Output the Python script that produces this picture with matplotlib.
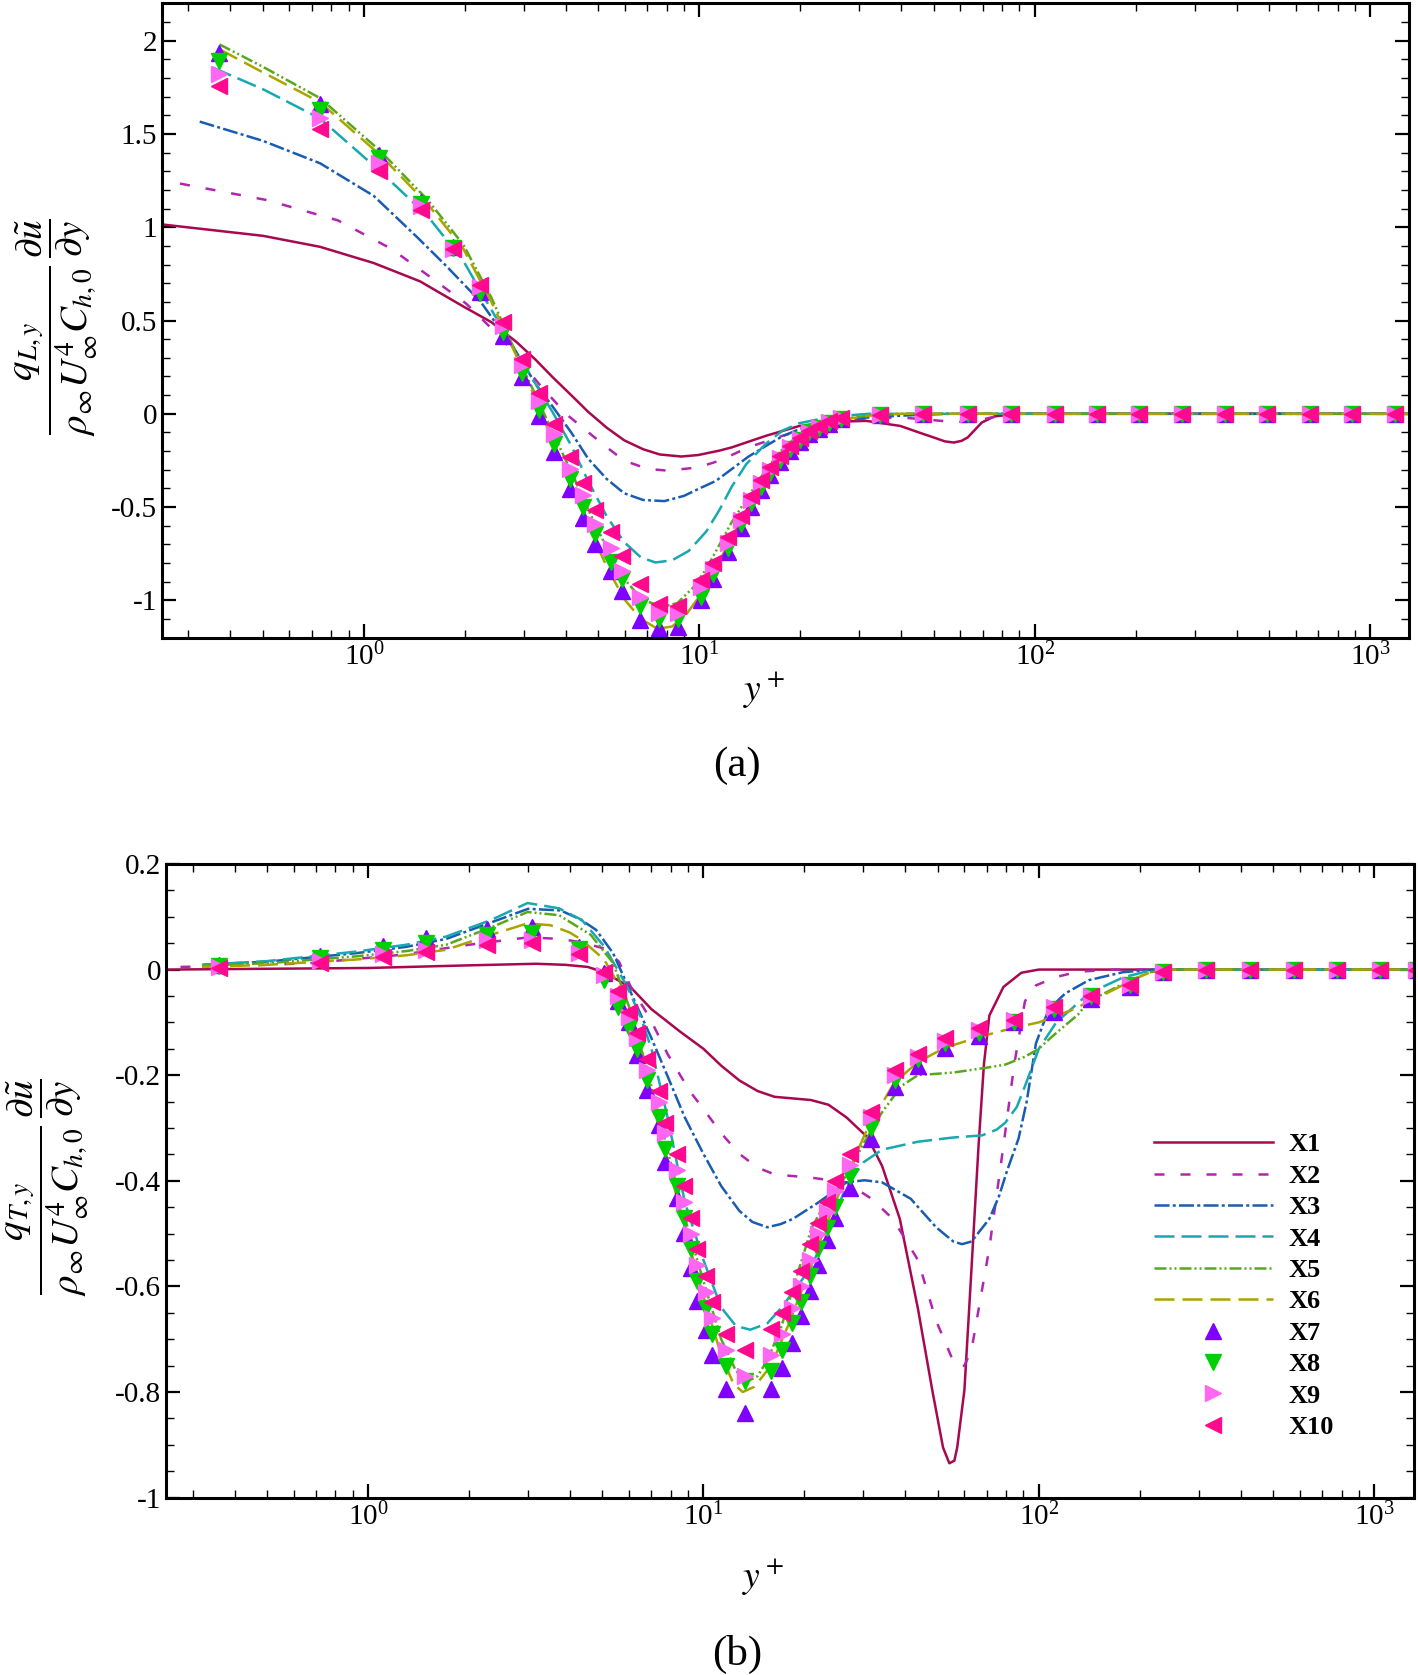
import matplotlib
matplotlib.use("Agg")
import matplotlib.pyplot as plt
from matplotlib.ticker import MultipleLocator, FuncFormatter, LogLocator

plt.rcParams["font.family"] = "serif"
plt.rcParams["font.serif"] = ["Liberation Serif", "DejaVu Serif"]
plt.rcParams["mathtext.fontset"] = "stix"
plt.rcParams["axes.unicode_minus"] = False

# ---------------- panel (a): q_L,y ----------------
a_x1 = [0.25, 0.5, 0.74, 1.07, 1.47, 1.98, 2.4, 2.85, 3.25, 3.65, 4.15, 4.66, 5.3, 5.97, 6.8, 7.62, 8.84,
        9.93, 11.5, 12.5, 15.8, 19.9, 25.0, 31.5, 39.7, 46, 50, 54, 57.4, 60.5, 63.1, 66, 69.5, 75.8, 89.3, 1310]
a_q1 = [1.015, 0.954, 0.895, 0.808, 0.71, 0.575, 0.491, 0.385, 0.29, 0.197, 0.10, 0.011, -0.075, -0.142, -0.19,
        -0.218, -0.229, -0.221, -0.197, -0.18, -0.118, -0.065, -0.043, -0.038, -0.065, -0.105, -0.127, -0.148,
        -0.154, -0.145, -0.127, -0.09, -0.047, -0.014, 0.0, 0.0]

a_x2 = [0.283, 0.512, 0.836, 1.208, 1.583, 2.02, 2.59, 3.31, 4.0, 4.66, 5.3, 5.97, 7.0, 8.07, 9.93, 11.5, 14.0,
        17.7, 22.3, 28.0, 33, 39.7, 46, 52.6, 58, 63.1, 68, 74.0, 81, 89, 1310]
a_q2 = [1.234, 1.146, 1.037, 0.884, 0.731, 0.59, 0.40, 0.165, 0.0, -0.098, -0.18, -0.251, -0.295, -0.305, -0.287,
        -0.251, -0.18, -0.118, -0.065, -0.033, -0.022, -0.02, -0.028, -0.038, -0.043, -0.043, -0.035, -0.02,
        -0.008, 0.0, 0.0]

a_x3 = [0.324, 0.5, 0.74, 1.07, 1.435, 1.75, 2.23, 2.85, 3.25, 3.65, 4.15, 4.66, 5.3, 5.97, 6.8, 7.87, 9.0, 9.93,
        11.2, 12.5, 14.0, 15.8, 17.7, 19.9, 22.3, 25.0, 31.5, 40, 55, 1310]
a_q3 = [1.566, 1.463, 1.343, 1.168, 0.95, 0.797, 0.60, 0.33, 0.16, 0.04, -0.10, -0.24, -0.35, -0.426, -0.462,
        -0.468, -0.44, -0.403, -0.36, -0.296, -0.23, -0.172, -0.12, -0.082, -0.055, -0.038, -0.02, -0.01, 0.0, 0.0]

a_x4 = [0.354, 0.5, 0.74, 1.12, 1.55, 1.98, 2.4, 2.85, 3.25, 3.65, 4.15, 4.66, 5.3, 5.97, 6.7, 7.4, 8.3, 9.3,
        10.5, 11.5, 12.5, 13.8, 15.8, 17.7, 19.9, 25, 32, 1310]
a_q4 = [1.856, 1.74, 1.583, 1.299, 1.059, 0.819, 0.557, 0.33, 0.16, 0.01, -0.17, -0.36, -0.55, -0.688, -0.77,
        -0.797, -0.785, -0.735, -0.63, -0.513, -0.39, -0.27, -0.16, -0.09, -0.05, -0.015, 0.0, 0.0]

a_x5 = [0.371, 0.5, 0.74, 1.12, 1.55, 1.98, 2.4, 2.85, 3.25, 3.65, 4.15, 4.66, 5.3, 5.97, 6.7, 7.7, 8.6, 9.6,
        10.5, 11.5, 12.5, 13.8, 15.8, 17.7, 19.9, 22.3, 26, 32, 40, 1310]
a_q5 = [1.98, 1.86, 1.692, 1.408, 1.146, 0.906, 0.622, 0.32, 0.10, -0.098, -0.31, -0.513, -0.72, -0.884, -0.99,
        -1.036, -1.015, -0.93, -0.83, -0.70, -0.58, -0.46, -0.30, -0.19, -0.11, -0.06, -0.03, -0.01, 0.0, 0.0]

a_x6 = [0.371, 0.5, 0.74, 1.12, 1.55, 1.98, 2.4, 2.85, 3.25, 3.65, 4.15, 4.66, 5.3, 5.97, 6.7, 7.5, 8.3, 9.1,
        10.0, 11.0, 12.2, 13.5, 15.0, 17.0, 19.4, 22.3, 26, 32, 40, 1310]
a_q6 = [1.954, 1.83, 1.67, 1.386, 1.124, 0.884, 0.60, 0.31, 0.08, -0.142, -0.38, -0.60, -0.82, -0.993, -1.10,
        -1.152, -1.14, -1.08, -0.98, -0.85, -0.70, -0.55, -0.40, -0.26, -0.15, -0.08, -0.035, -0.01, 0.0, 0.0]

a_mk = [0.37, 0.74, 1.11, 1.48, 1.85, 2.22, 2.59, 2.96, 3.33, 3.70, 4.13, 4.50, 4.90, 5.44, 5.89, 6.67, 7.6, 8.63,
        10.1, 11.0, 12.2, 13.3, 14.3, 15.3, 16.3, 17.4, 18.6, 19.9, 21.3, 22.8, 24.4, 26.5,
        34.6, 46.3, 63.1, 85.1, 114.6, 153, 205, 275, 368, 493, 660, 885, 1185]
a_q7 = [1.932, 1.659, 1.386, 1.135, 0.895, 0.655, 0.415, 0.197, -0.011, -0.207,
        -0.404, -0.557, -0.699, -0.841, -0.95, -1.107, -1.15, -1.143,
        -1.0, -0.884, -0.74, -0.61, -0.50, -0.41, -0.33, -0.26, -0.20, -0.15, -0.11, -0.08, -0.055, -0.03,
        -0.005, 0.0, 0.0, 0.0, 0.0, 0.0, 0.0, 0.0, 0.0, 0.0, 0.0, 0.0, 0.0]
a_q8 = [1.889, 1.627, 1.369, 1.124, 0.889, 0.648, 0.437, 0.218, 0.022, -0.164,
        -0.349, -0.502, -0.644, -0.797, -0.884, -1.03, -1.10, -1.10,
        -0.98, -0.86, -0.72, -0.59, -0.48, -0.39, -0.315, -0.25, -0.19, -0.14, -0.10, -0.075, -0.05, -0.03,
        -0.005, 0.0, 0.0, 0.0, 0.0, 0.0, 0.0, 0.0, 0.0, 0.0, 0.0, 0.0, 0.0]
a_q9 = [1.823, 1.583, 1.343, 1.114, 0.884, 0.677, 0.469, 0.262, 0.066, -0.109,
        -0.295, -0.437, -0.59, -0.721, -0.84, -0.98, -1.07, -1.07,
        -0.93, -0.83, -0.69, -0.57, -0.46, -0.37, -0.30, -0.235, -0.18, -0.135, -0.095, -0.07, -0.045, -0.025,
        -0.005, 0.0, 0.0, 0.0, 0.0, 0.0, 0.0, 0.0, 0.0, 0.0, 0.0, 0.0, 0.0]
a_q10 = [1.758, 1.528, 1.30, 1.092, 0.884, 0.688, 0.491, 0.295, 0.109, -0.055,
         -0.229, -0.371, -0.513, -0.633, -0.76, -0.91, -1.02, -1.03,
         -0.89, -0.80, -0.66, -0.55, -0.44, -0.355, -0.285, -0.225, -0.17, -0.13, -0.09, -0.065, -0.04, -0.02,
         -0.005, 0.0, 0.0, 0.0, 0.0, 0.0, 0.0, 0.0, 0.0, 0.0, 0.0, 0.0, 0.0]

# ---------------- panel (b): q_T,y ----------------
b_x1 = [0.25, 1.0, 2.0, 3.17, 3.87, 4.52, 5.1, 6.1, 7.0, 8.5, 10, 11.3, 12.8, 14.5, 16.3, 20.9, 23.6, 26.7, 30.9,
        34.1, 38.5, 43.6, 48.1, 51.8, 54.1, 56, 57.1, 60, 63, 66.1, 68.6, 71.2, 78.4, 88.7, 100, 1310]
b_q1 = [0.0, 0.003, 0.008, 0.011, 0.009, 0.005, -0.006, -0.035, -0.075, -0.117, -0.15, -0.182, -0.21, -0.23,
        -0.241, -0.247, -0.256, -0.28, -0.318, -0.372, -0.472, -0.642, -0.796, -0.905, -0.935, -0.93, -0.905,
        -0.796, -0.565, -0.334, -0.179, -0.087, -0.033, -0.006, 0.0, 0.0]

b_x2 = [0.276, 0.5, 0.68, 1.26, 2.0, 3.0, 3.75, 4.3, 5.06, 5.6, 6.1, 6.9, 7.82, 9.1, 10, 11.3, 12.8, 14.5, 16.3,
        20.9, 26.7, 31.7, 36.7, 43.6, 49.4, 55.6, 58, 60, 63, 66.2, 71.2, 78.4, 84.5, 90.9, 98, 112.7, 131, 168, 1310]
b_q2 = [0.005, 0.009, 0.0125, 0.028, 0.047, 0.061, 0.058, 0.052, 0.04, 0.015, -0.035, -0.09, -0.16, -0.23, -0.264,
        -0.31, -0.349, -0.375, -0.388, -0.394, -0.403, -0.434, -0.472, -0.55, -0.665, -0.742, -0.752, -0.75, -0.72,
        -0.642, -0.527, -0.334, -0.179, -0.06, -0.03, -0.014, -0.004, 0.0, 0.0]

b_x3 = [0.322, 0.5, 0.92, 1.3, 1.71, 2.3, 3.0, 3.75, 4.3, 4.79, 5.38, 6.12, 7.0, 7.82, 8.8, 10, 11.3, 12.8, 14,
        15.5, 17, 18.5, 21.9, 26.7, 30.2, 34.1, 41.5, 49.4, 55.6, 59, 63, 71.2, 76, 80.5, 87, 92, 98, 107, 120,
        141, 178, 220, 1310]
b_q3 = [0.009, 0.015, 0.031, 0.043, 0.058, 0.088, 0.115, 0.112, 0.095, 0.075, 0.031, -0.048, -0.13, -0.202, -0.28,
        -0.349, -0.41, -0.457, -0.478, -0.488, -0.482, -0.472, -0.442, -0.403, -0.399, -0.403, -0.434, -0.488,
        -0.515, -0.52, -0.515, -0.472, -0.43, -0.38, -0.32, -0.25, -0.14, -0.075, -0.045, -0.02, -0.005, 0.0, 0.0]

b_x4 = [0.32, 0.5, 0.92, 1.3, 1.71, 2.33, 2.99, 3.71, 4.34, 5.06, 5.91, 6.5, 7.0, 7.82, 8.8, 10, 11.3, 12.5, 13.8,
        15.5, 17, 20.9, 23.6, 26.7, 30, 34.1, 43.6, 55.6, 67.7, 74.9, 79.4, 86, 91, 100, 112.7, 141, 178, 220, 1310]
b_q4 = [0.009, 0.016, 0.034, 0.047, 0.0625, 0.094, 0.126, 0.116, 0.094, 0.044, -0.031, -0.09, -0.15, -0.28, -0.44,
        -0.55, -0.64, -0.675, -0.682, -0.67, -0.642, -0.565, -0.49, -0.411, -0.365, -0.341, -0.326, -0.318, -0.314,
        -0.303, -0.29, -0.26, -0.22, -0.15, -0.10, -0.045, -0.015, 0.0, 0.0]

b_x5 = [0.32, 0.5, 0.92, 1.3, 1.71, 2.33, 2.99, 3.71, 4.61, 5.38, 6.0, 6.8, 7.8, 8.8, 10, 11.3, 12.5, 13.5, 14.5,
        15.5, 17, 19, 21, 23.6, 26.7, 30, 34.1, 39, 43.6, 55.6, 71.2, 79.4, 90.9, 100, 106, 112.7, 131, 141, 178,
        214, 250, 1310]
b_q5 = [0.0075, 0.012, 0.025, 0.035, 0.047, 0.08, 0.109, 0.103, 0.066, 0.0125, -0.07, -0.19, -0.34, -0.47, -0.59,
        -0.70, -0.76, -0.78, -0.77, -0.74, -0.68, -0.58, -0.49, -0.43, -0.39, -0.33, -0.27, -0.22, -0.20, -0.195,
        -0.185, -0.18, -0.165, -0.15, -0.135, -0.12, -0.085, -0.06, -0.027, -0.005, 0.0, 0.0]

b_x6 = [0.32, 0.5, 0.92, 1.3, 1.71, 2.33, 2.99, 3.5, 4.0, 4.34, 5.06, 5.6, 6.3, 7.0, 7.8, 8.8, 10, 11.3, 12.3, 13.1,
        14.2, 15.9, 18, 20.4, 23, 26.7, 30.9, 37, 43.6, 52.5, 66, 84.5, 100, 125, 158, 199, 225, 1310]
b_q6 = [0.005, 0.009, 0.019, 0.027, 0.0375, 0.066, 0.0875, 0.084, 0.07, 0.056, 0.019, -0.03, -0.13, -0.24, -0.36,
        -0.49, -0.62, -0.73, -0.785, -0.80, -0.79, -0.75, -0.67, -0.58, -0.49, -0.39, -0.30, -0.215, -0.175,
        -0.148, -0.128, -0.11, -0.10, -0.077, -0.046, -0.014, 0.0, 0.0]

b_mk = [0.36, 0.72, 1.11, 1.49, 2.26, 3.08, 4.27, 5.06, 5.55, 6.0, 6.33, 6.78, 7.36, 7.70, 8.35, 8.74, 9.16, 9.59,
        10.16, 10.64, 11.67, 13.3, 15.94, 17.17, 18.4, 19.6, 20.8, 22.0, 23.3, 24.7, 27.4, 31.5, 37.2, 43.6, 52.5,
        66.3, 84.5, 111, 143.5, 187, 235, 316, 427, 576, 772, 1043, 1330]
b_q7 = [0.009, 0.026, 0.045, 0.059, 0.077, 0.08, 0.0425, -0.006,
        -0.06, -0.10, -0.162, -0.228, -0.294, -0.364, -0.433, -0.499, -0.565, -0.628,
        -0.682, -0.729, -0.795, -0.839, -0.795, -0.754, -0.707, -0.656, -0.609, -0.559,
        -0.512, -0.471, -0.414, -0.32, -0.222, -0.183, -0.148, -0.125, -0.10, -0.08,
        -0.055, -0.033, -0.005, 0.0, 0.0, 0.0, 0.0, 0.0, 0.0]
b_q8 = [0.006, 0.022, 0.0375, 0.051, 0.066, 0.069, 0.039, -0.02,
        -0.07, -0.11, -0.15, -0.21, -0.28, -0.34, -0.41, -0.47, -0.53, -0.59,
        -0.64, -0.69, -0.75, -0.78, -0.76, -0.72, -0.67, -0.63, -0.58, -0.53,
        -0.49, -0.45, -0.39, -0.30, -0.21, -0.17, -0.14, -0.12, -0.10, -0.075,
        -0.05, -0.03, -0.005, 0.0, 0.0, 0.0, 0.0, 0.0, 0.0]
b_q9 = [0.004, 0.016, 0.03, 0.0375, 0.056, 0.056, 0.031, -0.01,
        -0.05, -0.09, -0.13, -0.19, -0.25, -0.31, -0.38, -0.44, -0.50, -0.56,
        -0.61, -0.66, -0.72, -0.77, -0.73, -0.69, -0.64, -0.60, -0.55, -0.50,
        -0.46, -0.42, -0.37, -0.28, -0.20, -0.165, -0.135, -0.115, -0.095, -0.07,
        -0.05, -0.03, -0.005, 0.0, 0.0, 0.0, 0.0, 0.0, 0.0]
b_q10 = [0.003, 0.0125, 0.024, 0.0325, 0.047, 0.05, 0.03, -0.005,
         -0.04, -0.08, -0.12, -0.17, -0.23, -0.29, -0.35, -0.41, -0.47, -0.53,
         -0.58, -0.63, -0.69, -0.72, -0.68, -0.65, -0.61, -0.57, -0.52, -0.48,
         -0.44, -0.40, -0.35, -0.27, -0.19, -0.16, -0.13, -0.11, -0.095, -0.07,
         -0.05, -0.03, -0.005, 0.0, 0.0, 0.0, 0.0, 0.0, 0.0]

labels = ["X1", "X2", "X3", "X4", "X5", "X6", "X7", "X8", "X9", "X10"]
line_colors = ["#A8084F", "#B026B0", "#1A5CB0", "#18A8B0", "#58A818", "#AAA400"]
line_dashes = [None, (4, 6.4), (6, 1.3, 1.2, 1.3), (8, 2.8), (4.8, 1.2, 0.8, 1.2, 0.8, 1.2), (8, 3.2)]
mk_colors = ["#8000FF", "#00D000", "#FF66F2", "#FF0A8E"]
mk_shapes = ["^", "v", ">", "<"]

fig = plt.figure(figsize=(14.18, 16.75), dpi=100)
ax_a = fig.add_axes([0.1142, 0.6193, 0.8798, 0.3787])
ax_b = fig.add_axes([0.1171, 0.1059, 0.8798, 0.3783])


def draw(ax, lines, mk_x, mk_vals, with_labels):
    for i, (x, q) in enumerate(lines):
        lab = labels[i] if with_labels else None
        if line_dashes[i] is None:
            ax.plot(x, q, color=line_colors[i], lw=1.8, label=lab)
        else:
            ax.plot(x, q, color=line_colors[i], lw=1.8, dashes=line_dashes[i], label=lab)
    for j, q in enumerate(mk_vals):
        lab = labels[6 + j] if with_labels else None
        ax.plot(mk_x, q, ls="none", marker=mk_shapes[j], ms=12, color=mk_colors[j],
                mec=mk_colors[j], label=lab)


draw(ax_a, [(a_x1, a_q1), (a_x2, a_q2), (a_x3, a_q3), (a_x4, a_q4), (a_x5, a_q5), (a_x6, a_q6)],
     a_mk, [a_q7, a_q8, a_q9, a_q10], False)
draw(ax_b, [(b_x1, b_q1), (b_x2, b_q2), (b_x3, b_q3), (b_x4, b_q4), (b_x5, b_q5), (b_x6, b_q6)],
     b_mk, [b_q7, b_q8, b_q9, b_q10], True)

fmt = FuncFormatter(lambda v, p: f"{round(v, 6) + 0:g}")
for ax, (lo, hi), major, minor in [(ax_a, (-1.2, 2.2), 0.5, 0.1), (ax_b, (-1.0, 0.2), 0.2, 0.05)]:
    ax.set_xscale("log")
    ax.set_xlim(0.25, 1310)
    ax.set_ylim(lo, hi)
    ax.yaxis.set_major_locator(MultipleLocator(major))
    ax.yaxis.set_minor_locator(MultipleLocator(minor))
    ax.yaxis.set_major_formatter(fmt)
    ax.xaxis.set_minor_locator(LogLocator(base=10, subs=range(2, 10), numticks=20))
    ax.tick_params(which="both", direction="in", top=True, right=True, labelsize=21)
    ax.tick_params(which="major", length=10, width=1.6)
    ax.tick_params(which="minor", length=6, width=1.0)
    for s in ax.spines.values():
        s.set_linewidth(2.2)

ax_a.set_xlabel(r"$y^+$", fontsize=27, va="top")
ax_a.xaxis.set_label_coords(0.483, -0.05)
ax_b.set_xlabel(r"$y^+$", fontsize=27, va="top")
ax_b.xaxis.set_label_coords(0.479, -0.092)

ax_a.set_ylabel(r"$\dfrac{q_{L,y}}{\rho_\infty U_\infty^4 C_{h,0}}\,\dfrac{\partial\tilde{u}}{\partial y}$", fontsize=28)
ax_a.yaxis.set_label_coords(-0.05, 0.49)
ax_b.set_ylabel(r"$\dfrac{q_{T,y}}{\rho_\infty U_\infty^4 C_{h,0}}\,\dfrac{\partial\tilde{u}}{\partial y}$", fontsize=28)
ax_b.yaxis.set_label_coords(-0.06, 0.49)

ax_b.legend(loc="upper left", bbox_to_anchor=(0.8138, 0.3236), bbox_transform=fig.transFigure,
            frameon=False, prop={"weight": "bold", "size": 19}, handlelength=4.5, handletextpad=0.6,
            labelspacing=0.3, borderpad=0, borderaxespad=0, numpoints=1)

fig.text(737 / 1418, 1 - 766 / 1675, "(a)", ha="center", va="center", fontsize=31)
fig.text(737 / 1418, 1 - 1654 / 1675, "(b)", ha="center", va="center", fontsize=31)

fig.savefig("out.png", dpi=100)
